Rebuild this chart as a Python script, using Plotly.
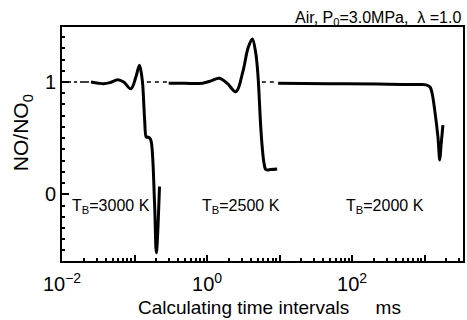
import math
import plotly.graph_objects as go

# ---- data (time in ms, NO/NO0) ----
t_3000 = [0.0251, 0.0316, 0.0372, 0.0457, 0.0589, 0.0708, 0.0891, 0.105, 0.117,
          0.126, 0.130, 0.138, 0.145, 0.150, 0.162, 0.170, 0.189, 0.200, 0.221]
v_3000 = [1.00, 0.99, 0.985, 0.995, 1.02, 1.00, 0.94, 1.05, 1.15,
          1.05, 0.97, 0.66, 0.51, 0.51, 0.50, 0.47, -0.08, -0.52, 0.07]

t_2500 = [0.296, 0.487, 0.867, 1.14, 1.47, 1.89, 2.49, 3.14, 3.67, 4.21,
          4.69, 5.04, 5.48, 5.77, 6.10, 6.50, 7.59, 9.27]
v_2500 = [0.988, 0.988, 0.99, 1.01, 1.033, 0.99, 0.914, 1.10, 1.30, 1.383,
          1.26, 1.06, 0.62, 0.42, 0.28, 0.22, 0.22, 0.225]

t_2000 = [9.57, 47.4, 230, 815, 1050, 1190, 1270, 1380, 1530, 1620, 1680, 1790]
v_2000 = [0.988, 0.985, 0.982, 0.978, 0.975, 0.955, 0.90, 0.75, 0.51, 0.305, 0.42, 0.617]

ref1_t = [0.01, 0.0245]
ref1_v = [1.0, 1.0]
ref2_t = [0.148, 0.29, None, 5.7, 9.4]
ref2_v = [1.0, 1.0, None, 1.0, 1.0]

labels = ["T<sub>B</sub>=3000 K", "T<sub>B</sub>=2500 K", "T<sub>B</sub>=2000 K"]
label_t = [0.048, 2.94, 287]
label_v = [-0.113, -0.113, -0.113]

x_tickvals = [0.01, 0.1, 1, 10, 100, 1000]
x_ticktext = ["10<sup>\u22122</sup>", "", "10<sup>0</sup>", "", "10<sup>2</sup>", ""]
y_tickvals = [0, 1]
y_ticktext = ["0", "1"]

x_minor = [k * 10 ** n for n in range(-2, 4) for k in range(2, 10)]
y_minor = [round(-0.5 + 0.1 * i, 2) for i in range(20)]

FONT = "Liberation Sans, Arial, sans-serif"
W, H = 467, 320
ML, MR, MT, MB = 62, 2, 27, 59
plot_w = W - ML - MR
plot_h = H - MT - MB

fig = go.Figure()
line = dict(color="black", width=3)
fig.add_trace(go.Scatter(x=t_3000, y=v_3000, mode="lines", line=line, line_shape="spline"))
fig.add_trace(go.Scatter(x=t_2500, y=v_2500, mode="lines", line=line, line_shape="spline"))
fig.add_trace(go.Scatter(x=t_2000, y=v_2000, mode="lines", line=line, line_shape="spline"))
fig.add_trace(go.Scatter(x=ref1_t, y=ref1_v, mode="lines",
                         line=dict(color="black", width=1.5, dash="dashdot")))
fig.add_trace(go.Scatter(x=ref2_t, y=ref2_v, mode="lines",
                         line=dict(color="black", width=1.5, dash="4px,4px")))

for txt, tx, ty in zip(labels, label_t, label_v):
    fig.add_annotation(x=math.log10(tx), y=ty, xref="x", yref="y", text=txt, showarrow=False,
                       font=dict(family=FONT, size=16, color="black"))

fig.add_annotation(x=(22 - ML) / plot_w, y=(H - MB - 133) / plot_h, xref="paper", yref="paper",
                   text="NO/NO<sub>0</sub>", textangle=-90, showarrow=False,
                   xanchor="center", yanchor="middle",
                   font=dict(family=FONT, size=21, color="black"))
fig.add_annotation(text="Air, P<sub>0</sub>=3.0MPa,  \u03bb =1.0", xref="paper", yref="paper",
                   x=1.0, y=(H - MB - 19) / plot_h, xanchor="right", yanchor="middle", showarrow=False,
                   font=dict(family=FONT, size=16, color="black"))
fig.add_annotation(text="Calculating time intervals\u00a0\u00a0\u00a0\u00a0\u00a0ms", xref="paper", yref="paper",
                   x=(271 - ML) / plot_w, y=(H - MB - 307) / plot_h,
                   xanchor="center", yanchor="middle", showarrow=False,
                   font=dict(family=FONT, size=19, color="black"))

fig.update_layout(
    width=W, height=H,
    margin=dict(l=ML, r=MR, t=MT, b=MB),
    paper_bgcolor="white", plot_bgcolor="white",
    showlegend=False,
    font=dict(family=FONT, color="black"),
    xaxis=dict(type="log", range=[-2, 3.53], tickvals=x_tickvals, ticktext=x_ticktext,
               ticks="inside", ticklen=6, tickwidth=1.5, tickcolor="black",
               showline=True, linecolor="black", linewidth=2, mirror=True,
               showgrid=False, zeroline=False, ticklabelstandoff=4,
               tickfont=dict(size=20, family=FONT),
               minor=dict(tickvals=x_minor, ticks="inside", ticklen=3, tickcolor="black", showgrid=False)),
    yaxis=dict(range=[-0.594, 1.49], tickvals=y_tickvals, ticktext=y_ticktext,
               ticks="inside", ticklen=7, tickwidth=1.5, tickcolor="black",
               showline=True, linecolor="black", linewidth=2, mirror=True,
               showgrid=False, zeroline=False,
               tickfont=dict(size=20, family=FONT),
               minor=dict(tickvals=y_minor, ticks="inside", ticklen=3, tickcolor="black", showgrid=False)),
)

fig.write_html("out.html", config={"displayModeBar": False},
               post_script="document.body.style.margin='0px';")
